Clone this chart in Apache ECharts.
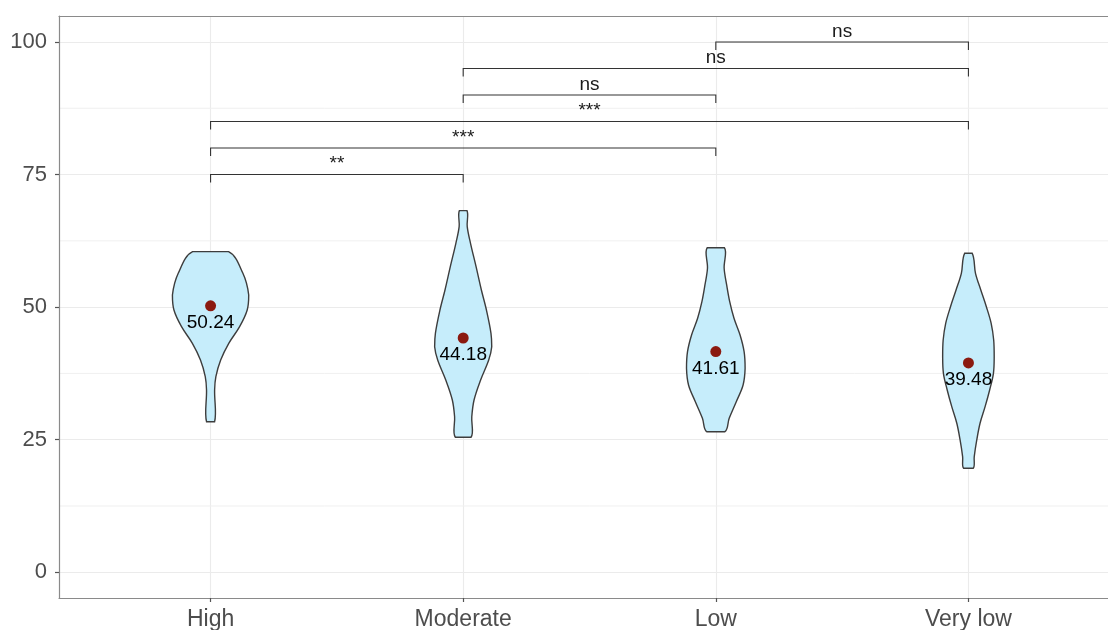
<!DOCTYPE html>
<html>
<head>
<meta charset="utf-8">
<script src="https://cdn.jsdelivr.net/npm/echarts@6/dist/echarts.min.js"></script>
<style>
  html, body { margin: 0; padding: 0; background: #ffffff; overflow: hidden; width: 1108px; height: 630px; }
  /* the plotting panel continues a little past the right edge of the window */
  #chart { width: 1130px; height: 630px; }
</style>
</head>
<body>
<div id="chart"></div>
<script>
// Groups along the x axis
const categories = ['High', 'Moderate', 'Low', 'Very low'];
// Group means (red points with labels)
const means = [50.24, 44.18, 41.61, 39.48];

// Violin outlines: [score, half-width in category units], from top to bottom
const violinHigh = [
  [60.46, 0.071], [56.38, 0.128], [52.29, 0.151], [49.46, 0.145], [46.31, 0.115],
  [43.18, 0.072], [40.03, 0.040], [36.89, 0.021], [34.38, 0.016], [28.40, 0.016]
];
const violinModerate = [
  [68.19, 0.015], [65.17, 0.016], [62.04, 0.029], [57.63, 0.051], [53.23, 0.072],
  [49.46, 0.092], [45.07, 0.110], [42.54, 0.113], [40.03, 0.101], [36.26, 0.069],
  [32.49, 0.043], [29.34, 0.034], [25.46, 0.031]
];
const violinLow = [
  [61.21, 0.034], [57.33, 0.033], [54.18, 0.043], [51.03, 0.055], [47.90, 0.072],
  [44.75, 0.096], [41.60, 0.112], [38.47, 0.116], [35.32, 0.108], [32.17, 0.081],
  [29.04, 0.053], [26.51, 0.036]
];
const violinVeryLow = [
  [60.15, 0.015], [56.38, 0.028], [53.23, 0.049], [50.08, 0.071], [46.95, 0.090],
  [43.80, 0.100], [40.66, 0.102], [37.52, 0.099], [34.38, 0.084], [31.23, 0.066],
  [28.10, 0.046], [24.95, 0.033], [21.80, 0.023], [19.61, 0.019]
];
const violins = [violinHigh, violinModerate, violinLow, violinVeryLow];

// Axis ticks
const yTicks = [0, 25, 50, 75, 100];
const yMinorTicks = [12.5, 37.5, 62.5, 87.5];
const xTicks = [1, 2, 3, 4];

// Pairwise comparison brackets
const bracketFrom = [1, 1, 1, 2, 2, 3];
const bracketTo = [2, 3, 4, 3, 4, 4];
const bracketY = [75, 80, 85, 90, 95, 100];
const bracketLabels = ['**', '***', '***', 'ns', 'ns', 'ns'];
const bracketTip = 1.5;

const FONT = '"Liberation Sans", Arial, Helvetica, sans-serif';
const Y_MIN = -4.85, Y_MAX = 104.9;
const X_MIN = 0.4, X_MAX = 4.6;

const chart = echarts.init(document.getElementById('chart'), null, { renderer: 'canvas' });

const violinData = means.map((m, i) => [i + 1, m]);
const meanData = means.map((m, i) => [i + 1, m]);
const bracketData = bracketY.map((y, i) => [bracketFrom[i], y]);
const minorData = yMinorTicks.map(v => [X_MIN, v]);

const frameLine = { show: true, onZero: false, lineStyle: { color: '#8a8a8a', width: 1.2 } };

chart.setOption({
  animation: false,
  backgroundColor: '#ffffff',
  grid: {
    left: 59, top: 16, width: 1061, height: 582, show: false,
    containLabel: false, outerBoundsMode: 'none'
  },
  xAxis: [{
    type: 'value', min: X_MIN, max: X_MAX, position: 'bottom',
    axisLine: frameLine,
    axisTick: { show: true, customValues: xTicks, length: 4, lineStyle: { color: '#555', width: 1.2 } },
    axisLabel: {
      customValues: xTicks, margin: 10,
      formatter: v => categories[Math.round(v) - 1] || '',
      fontFamily: FONT, fontSize: 23, color: '#4d4d4d'
    },
    splitLine: { show: true, lineStyle: { color: '#ebebeb', width: 1.1 } }
  }, {
    // top edge of the panel frame
    type: 'value', min: X_MIN, max: X_MAX, position: 'top',
    axisLine: frameLine,
    axisTick: { show: false },
    axisLabel: { show: false },
    splitLine: { show: false }
  }],
  yAxis: {
    type: 'value', min: Y_MIN, max: Y_MAX, position: 'left',
    axisLine: frameLine,
    axisTick: { show: true, customValues: yTicks, length: 4, lineStyle: { color: '#555', width: 1.2 } },
    axisLabel: {
      customValues: yTicks, margin: 12, padding: [4, 0, 0, 0],
      fontFamily: FONT, fontSize: 22, color: '#4d4d4d'
    },
    splitLine: { show: true, lineStyle: { color: '#ebebeb', width: 1.1 } }
  },
  series: [
    {
      // minor horizontal grid lines
      type: 'custom',
      name: 'minorGrid',
      coordinateSystem: 'cartesian2d',
      data: minorData,
      z: 0,
      silent: true,
      renderItem: (params, api) => {
        const v = yMinorTicks[params.dataIndex];
        const p1 = api.coord([X_MIN, v]);
        const p2 = api.coord([X_MAX, v]);
        return {
          type: 'line',
          shape: { x1: p1[0], y1: p1[1], x2: p2[0], y2: p2[1] },
          style: { stroke: '#f0f0f0', lineWidth: 1 }
        };
      }
    },
    {
      type: 'custom',
      name: 'violin',
      coordinateSystem: 'cartesian2d',
      data: violinData,
      z: 3,
      renderItem: (params, api) => {
        const i = params.dataIndex;
        const prof = violins[i];
        const cx = i + 1;
        const right = prof.map(p => api.coord([cx + p[1], p[0]]));
        const left = prof.slice().reverse().map(p => api.coord([cx - p[1], p[0]]));
        const pts = right.concat(left);
        const xs = pts.map(p => p[0]), ys = pts.map(p => p[1]);
        const box = [[Math.min(...xs), Math.min(...ys)], [Math.max(...xs), Math.max(...ys)]];
        return {
          type: 'polygon',
          shape: { points: pts, smooth: 0.35, smoothConstraint: box },
          style: { fill: '#C6EDFB', stroke: '#3d3d3d', lineWidth: 1.4 }
        };
      }
    },
    {
      type: 'scatter',
      name: 'mean',
      data: meanData,
      z: 5,
      symbol: 'circle',
      symbolSize: 11,
      itemStyle: { color: '#8B1A10', opacity: 1 },
      label: {
        show: true, position: 'bottom', distance: 2,
        formatter: p => p.value[1].toFixed(2),
        fontFamily: FONT, fontSize: 19, color: '#000000'
      }
    },
    {
      type: 'custom',
      name: 'brackets',
      coordinateSystem: 'cartesian2d',
      data: bracketData,
      z: 4,
      renderItem: (params, api) => {
        const k = params.dataIndex;
        const x1 = bracketFrom[k], x2 = bracketTo[k], y = bracketY[k];
        const a = api.coord([x1, y - bracketTip]);
        const b = api.coord([x1, y]);
        const c = api.coord([x2, y]);
        const d = api.coord([x2, y - bracketTip]);
        const mid = api.coord([(x1 + x2) / 2, y]);
        return {
          type: 'group',
          children: [
            {
              type: 'polyline',
              shape: { points: [a, b, c, d] },
              style: { stroke: '#333333', lineWidth: 1.1, fill: null }
            },
            {
              type: 'text',
              style: {
                text: bracketLabels[k], x: mid[0], y: mid[1] - 1,
                align: 'center', verticalAlign: 'bottom',
                fontFamily: FONT, fontSize: 19, fill: '#1a1a1a'
              }
            }
          ]
        };
      }
    }
  ]
});
</script>
</body>
</html>
